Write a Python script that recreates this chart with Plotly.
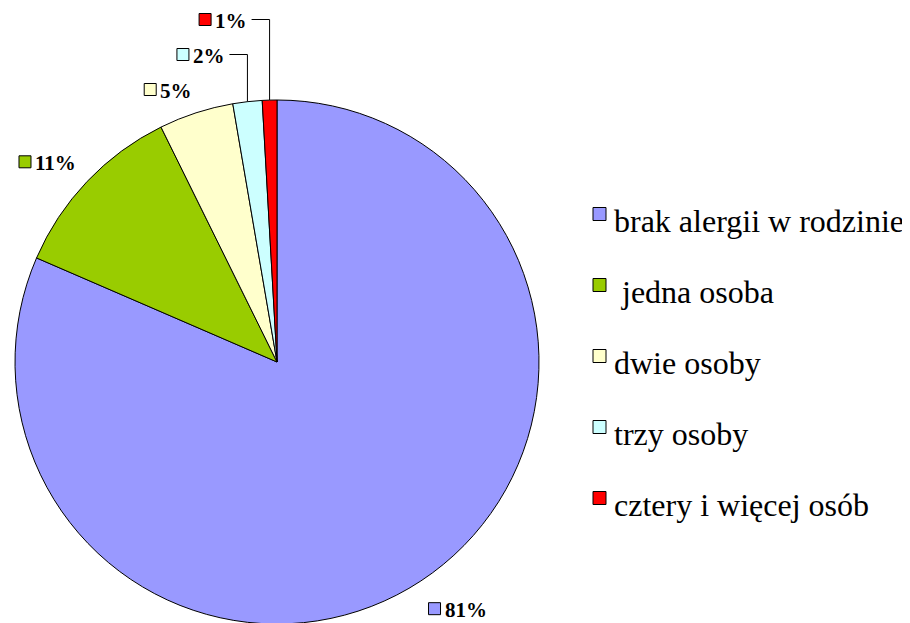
import math
import plotly.graph_objects as go

# ---- data ----
categories = ["brak alergii w rodzinie", " jedna osoba", "dwie osoby", "trzy osoby", "cztery i więcej osób"]
values = [81.5, 11.2, 4.6, 1.8, 0.9]
pct_labels = ["81%", "11%", "5%", "2%", "1%"]
colors = ["#9999FF", "#99CC00", "#FFFFCC", "#CCFFFF", "#FF0000"]

# ---- layout constants (page pixels) ----
W, H = 910, 623
PAGE_OFF = 8          # browser body margin
CX, CY, R = 277, 362, 262
LBL_FONT = 21
SQ = 12
GAP = 4
OFF = 14
DY_BELOW = 16
DY_ABOVE = 10
STACK = 35
LEAD = 23
LEG_X = 593
LEG_TXT_X = 612
LEG_Y0 = 214
LEG_DY = 71
LEG_SQ = 13
LEG_FONT = 32
SERIF = "Liberation Serif"


def px(x):
    return (x - PAGE_OFF) / W


def py(y):
    return 1 - (y - PAGE_OFF) / H


fig = go.Figure()
fig.add_trace(go.Pie(
    labels=categories,
    values=values,
    sort=False,
    direction="clockwise",
    rotation=0,
    marker=dict(colors=colors, line=dict(color="black", width=1)),
    textinfo="none",
    hoverinfo="label+percent",
    showlegend=False,
    domain=dict(x=[px(CX - R), px(CX + R)], y=[py(CY + R), py(CY - R)]),
))

shapes = []
annotations = []

total = sum(values)
cum = 0.0
label_info = []
for v in values:
    a0 = cum / total * 360
    cum += v
    a1 = cum / total * 360
    mid = math.radians((a0 + a1) / 2)
    label_info.append((math.sin(mid), -math.cos(mid)))


def text_width(s):
    digits = sum(c.isdigit() for c in s)
    return LBL_FONT * (0.5 * digits + 1.0)


def add_label(i, left, cy_):
    shapes.append(dict(type="rect", xref="paper", yref="paper",
                       x0=px(left), x1=px(left + SQ),
                       y0=py(cy_ + SQ / 2), y1=py(cy_ - SQ / 2),
                       fillcolor=colors[i], line=dict(color="black", width=1)))
    annotations.append(dict(x=px(left + SQ + GAP - 2), y=py(cy_ + 1), xref="paper", yref="paper",
                            text="<b>%s</b>" % pct_labels[i], showarrow=False,
                            xanchor="left", yanchor="middle",
                            font=dict(family=SERIF, size=LBL_FONT, color="black")))


last_y = None
for i, (ux, uy) in enumerate(label_info):
    tw = text_width(pct_labels[i])
    full = SQ + GAP + tw
    if i < 3:
        pxn = CX + (R + OFF) * ux
        pyn = CY + (R + OFF) * uy
        left = pxn if ux >= 0 else pxn - full
        cy_ = pyn + DY_BELOW if uy >= 0 else pyn - DY_ABOVE
        add_label(i, left, cy_)
        last_y = cy_
    else:
        ex = CX + R * ux
        ey = CY + R * uy
        cy_ = last_y - STACK
        right = ex - LEAD
        add_label(i, right - full, cy_)
        shapes.append(dict(type="path", xref="paper", yref="paper",
                           path="M %f,%f L %f,%f L %f,%f" % (px(right + 5), py(cy_), px(ex), py(cy_), px(ex), py(ey)),
                           line=dict(color="black", width=1)))
        last_y = cy_

# legend
for k, name in enumerate(categories):
    yc = LEG_Y0 + k * LEG_DY
    shapes.append(dict(type="rect", xref="paper", yref="paper",
                       x0=px(LEG_X), x1=px(LEG_X + LEG_SQ),
                       y0=py(yc + LEG_SQ / 2), y1=py(yc - LEG_SQ / 2),
                       fillcolor=colors[k], line=dict(color="black", width=1)))
    annotations.append(dict(x=px(LEG_TXT_X), y=py(yc + 7), xref="paper", yref="paper",
                            text=name.replace(" ", "\u00a0"), showarrow=False,
                            xanchor="left", yanchor="middle",
                            font=dict(family=SERIF, size=LEG_FONT, color="black")))

fig.update_layout(
    width=W, height=H,
    margin=dict(l=0, r=0, t=0, b=0),
    paper_bgcolor="white",
    plot_bgcolor="white",
    shapes=shapes,
    annotations=annotations,
)

fig.write_html("out.html")
